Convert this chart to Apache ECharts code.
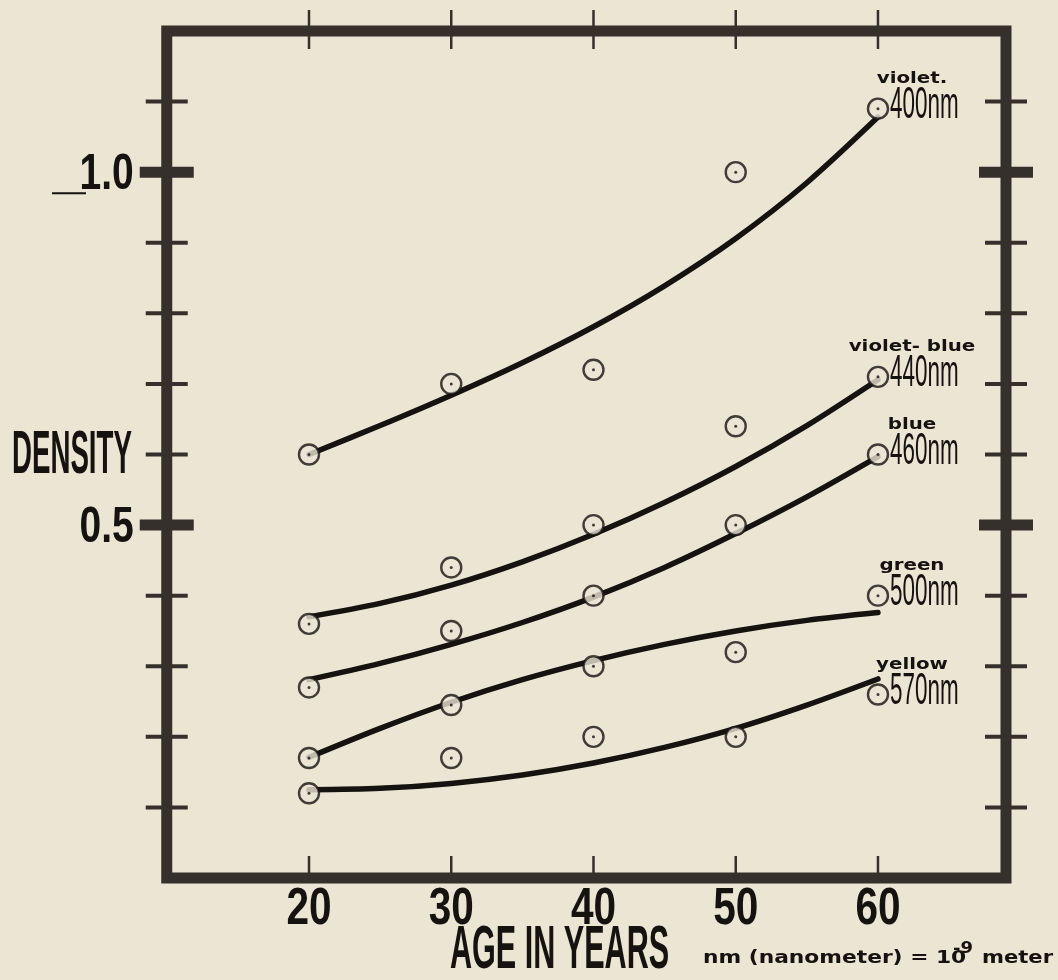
<!DOCTYPE html>
<html>
<head>
<meta charset="utf-8">
<title>Density vs age</title>
<script src="https://cdn.jsdelivr.net/npm/echarts@6/dist/echarts.min.js"></script>
<style>
  html, body { margin: 0; padding: 0; background: #ebe5d4; }
  #chart { width: 1058px; height: 980px; }
</style>
</head>
<body>
<div id="chart"></div>
<script>
// Ages at which density was measured
const ages = [20, 30, 40, 50, 60];

// Measured densities (open circles)
const violet     = [0.60, 0.70, 0.72, 1.00, 1.09];
const violetBlue = [0.36, 0.44, 0.50, 0.64, 0.71];
const blue       = [0.27, 0.35, 0.40, 0.50, 0.60];
const green      = [0.17, 0.245, 0.30, 0.32, 0.40];
const yellow     = [0.12, 0.17, 0.20, 0.20, 0.26];

// Trend curves, read every five years
const fitAges       = [20, 25, 30, 35, 40, 45, 50, 55, 60];
const violetFit     = [0.600, 0.641, 0.684, 0.730, 0.781, 0.839, 0.906, 0.985, 1.078];
const violetBlueFit = [0.370, 0.389, 0.415, 0.448, 0.487, 0.532, 0.583, 0.641, 0.706];
const blueFit       = [0.281, 0.304, 0.331, 0.362, 0.398, 0.440, 0.488, 0.540, 0.597];
const greenFit      = [0.171, 0.212, 0.249, 0.281, 0.308, 0.331, 0.350, 0.365, 0.376];
const yellowFit     = [0.125, 0.127, 0.134, 0.146, 0.163, 0.185, 0.212, 0.245, 0.282];

// Curve names and wavelengths
const colourNames = ['violet.', 'violet- blue', 'blue', 'green', 'yellow'];
const wavelengths = ['400nm', '440nm', '460nm', '500nm', '570nm'];

// Axis ticks and labels
const ageTicks = [20, 30, 40, 50, 60];
const densityTicks = [0.1, 0.2, 0.3, 0.4, 0.6, 0.7, 0.8, 0.9, 1.1];
const densityMajor = [0.5, 1.0];
const ageMin = 10, ageMax = 69, densityMin = 0, densityMax = 1.2;

const measured = [violet, violetBlue, blue, green, yellow];
const fitted = [violetFit, violetBlueFit, blueFit, greenFit, yellowFit];

const INK = '#15120f';
const FRAME = '#35302b';
const PAPER = '#ebe5d4';

const chart = echarts.init(document.getElementById('chart'), null, { renderer: 'canvas' });

function pairs(xs, values) {
  return xs.map((a, i) => [a, values[i]]);
}

function yTickSeries(values, half, width) {
  return {
    type: 'custom',
    coordinateSystem: 'cartesian2d',
    clip: false,
    silent: true,
    z: 6,
    data: values.map(v => [ageMin, v]),
    renderItem: function (params, api) {
      const v = api.value(1);
      const l = api.coord([ageMin, v]);
      const r = api.coord([ageMax, v]);
      return {
        type: 'group',
        children: [
          { type: 'line', shape: { x1: l[0] - half, y1: l[1], x2: l[0] + half, y2: l[1] },
            style: { stroke: FRAME, lineWidth: width } },
          { type: 'line', shape: { x1: r[0] - half, y1: r[1], x2: r[0] + half, y2: r[1] },
            style: { stroke: FRAME, lineWidth: width } }
        ]
      };
    }
  };
}

const xTickSeries = {
  type: 'custom',
  coordinateSystem: 'cartesian2d',
  clip: false,
  silent: true,
  z: 6,
  data: ageTicks.map(a => [a, densityMax]),
  renderItem: function (params, api) {
    const a = api.value(0);
    const t = api.coord([a, densityMax]);
    const b = api.coord([a, densityMin]);
    return {
      type: 'group',
      children: [
        { type: 'line', shape: { x1: t[0], y1: t[1] - 21, x2: t[0], y2: t[1] + 18 },
          style: { stroke: FRAME, lineWidth: 2.5 } },
        { type: 'line', shape: { x1: b[0], y1: b[1] - 22, x2: b[0], y2: b[1] + 4 },
          style: { stroke: FRAME, lineWidth: 2.5 } }
      ]
    };
  }
};

const series = [];
fitted.forEach(function (vals) {
  series.push({
    type: 'line',
    data: pairs(fitAges, vals),
    smooth: 0.3,
    symbol: 'none',
    z: 2,
    lineStyle: { color: INK, width: 5.5, cap: 'round' },
    silent: true
  });
});
measured.forEach(function (vals) {
  series.push({
    type: 'scatter',
    data: pairs(ages, vals),
    symbol: 'circle',
    symbolSize: 20,
    z: 3,
    itemStyle: { color: PAPER, borderColor: INK, borderWidth: 2.4 },
    silent: true
  });
  series.push({
    type: 'scatter',
    data: pairs(ages, vals),
    symbol: 'circle',
    symbolSize: 3,
    z: 4,
    itemStyle: { color: INK },
    silent: true
  });
});
series.push(yTickSeries(densityTicks, 21, 4));
series.push(yTickSeries(densityMajor, 27, 11));
series.push(xTickSeries);

const option = {
  backgroundColor: PAPER,
  animation: false,
  grid: {
    left: 166.75, top: 31, width: 839.25, height: 847,
    show: true, borderColor: FRAME, borderWidth: 11, backgroundColor: 'transparent'
  },
  xAxis: {
    type: 'value', min: ageMin, max: ageMax, interval: 10,
    axisLine: { show: false }, axisTick: { show: false }, splitLine: { show: false },
    axisLabel: { show: false }
  },
  yAxis: {
    type: 'value', min: densityMin, max: densityMax, interval: 0.1,
    axisLine: { show: false }, axisTick: { show: false }, splitLine: { show: false },
    axisLabel: { show: false }
  },
  series: series
};

chart.setOption(option);

// Condensed lettering: regular faces squeezed horizontally
function squeezed(x, y, text, sx, style) {
  return {
    type: 'text', x: x, y: y, scaleX: sx, z: 10, silent: true,
    style: Object.assign({ x: 0, y: 0, text: text, fill: INK }, style)
  };
}

const graphics = [];
const toPx = v => chart.convertToPixel({ gridIndex: 0 }, v);

// Age tick labels
ageTicks.forEach(function (a) {
  const p = toPx([a, densityMin]);
  graphics.push(squeezed(p[0], p[1] + 6, String(a), 0.78, {
    align: 'center', verticalAlign: 'top',
    fontFamily: 'Liberation Sans', fontWeight: 'bold', fontSize: 52
  }));
});
// Density tick labels
densityMajor.forEach(function (v) {
  const p = toPx([ageMin, v]);
  graphics.push(squeezed(p[0] - 33, p[1] + 3, v.toFixed(1), 0.78, {
    align: 'right', verticalAlign: 'middle',
    fontFamily: 'Liberation Sans', fontWeight: 'bold', fontSize: 50
  }));
});

// Curve labels at the 60-year end
measured.forEach(function (vals, i) {
  const p = toPx([ages[ages.length - 1], vals[vals.length - 1]]);
  graphics.push(squeezed(p[0] + 34, p[1] - 22, colourNames[i], 1.32, {
    align: 'center', verticalAlign: 'bottom',
    fontFamily: 'DejaVu Sans', fontWeight: 'bold', fontSize: 15
  }));
  graphics.push(squeezed(p[0] + 12, p[1] - 3, wavelengths[i], 0.51, {
    align: 'left', verticalAlign: 'middle',
    fontFamily: 'Liberation Sans', fontSize: 44
  }));
});

// Axis titles
graphics.push(squeezed(12, 456, 'DENSITY', 0.446, {
  align: 'left', verticalAlign: 'middle',
  fontFamily: 'Liberation Sans', fontWeight: 'bold', fontSize: 62
}));
graphics.push(squeezed(450, 951, 'AGE IN YEARS', 0.493, {
  align: 'left', verticalAlign: 'middle',
  fontFamily: 'Liberation Sans', fontWeight: 'bold', fontSize: 62
}));

// Unit note
graphics.push(squeezed(703, 967, 'nm (nanometer) = 10', 1.28, {
  align: 'left', verticalAlign: 'bottom',
  fontFamily: 'DejaVu Sans', fontWeight: 'bold', fontSize: 17
}));
graphics.push(squeezed(953, 957, '-9', 1.2, {
  align: 'left', verticalAlign: 'bottom',
  fontFamily: 'DejaVu Sans', fontWeight: 'bold', fontSize: 15
}));
graphics.push(squeezed(982, 967, 'meter', 1.24, {
  align: 'left', verticalAlign: 'bottom',
  fontFamily: 'DejaVu Sans', fontWeight: 'bold', fontSize: 17
}));

// short rule before the 1.0 label
const oneY = toPx([ageMin, 1.0])[1];
graphics.push({
  type: 'line', z: 10, silent: true,
  shape: { x1: 52, y1: oneY + 21, x2: 86, y2: oneY + 21 },
  style: { stroke: INK, lineWidth: 2 }
});

chart.setOption({ graphic: graphics });
</script>
</body>
</html>
